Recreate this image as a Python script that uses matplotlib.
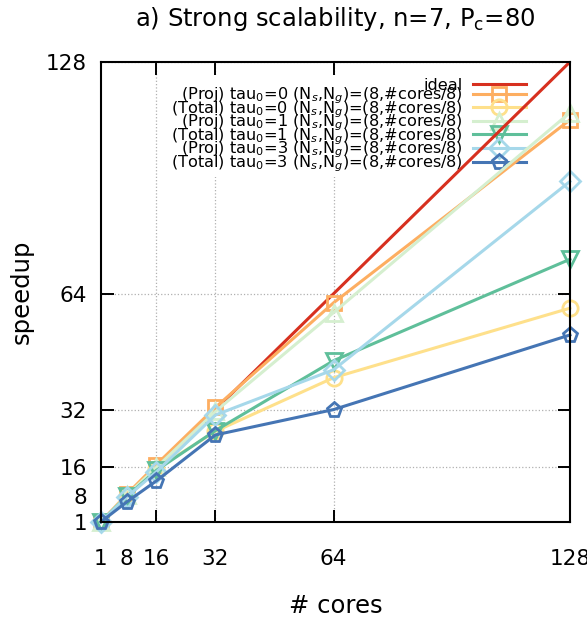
import matplotlib
matplotlib.use("Agg")
import matplotlib.pyplot as plt

cores = [1, 8, 16, 32, 64, 128]
ideal = [1, 8, 16, 32, 64, 128]
proj0 = [1, 8.6, 16.8, 32.6, 61.5, 112]
total0 = [1, 8.2, 15.6, 26.0, 40.8, 60.0]
proj1 = [1, 8.3, 16.0, 31.5, 58.8, 114]
total1 = [1, 8.0, 15.2, 26.2, 45.5, 73.5]
proj3 = [1, 7.9, 14.8, 30.5, 43.0, 95.0]
total3 = [1, 6.5, 12.3, 25.0, 32.0, 52.6]

tail = r" (N$_s$,N$_g$)=(8,#cores/8)"
series = [
    (proj0, "(Proj) tau$_0$=0" + tail, "#fdae61", "s", 10),
    (total0, "(Total) tau$_0$=0" + tail, "#fee08b", "o", 11),
    (proj1, "(Proj) tau$_0$=1" + tail, "#d5efcf", "^", 11),
    (total1, "(Total) tau$_0$=1" + tail, "#5fbf9a", "v", 11),
    (proj3, "(Proj) tau$_0$=3" + tail, "#a6d8ea", "D", 10),
    (total3, "(Total) tau$_0$=3" + tail, "#4575b4", "p", 11),
]

fig = plt.figure(figsize=(5.87, 6.19), dpi=100)
ax = fig.add_axes([0.172, 0.157, 0.799, 0.743])

ax.plot(cores, ideal, color="#d7301f", lw=2.2, label="ideal", zorder=2)
for ys, lab, col, mk, ms in series:
    ax.plot(cores, ys, color=col, lw=2.2, marker=mk, ms=ms, mfc="none",
            mew=2, label=lab, clip_on=False, zorder=2)

ax.set_xlim(1, 128)
ax.set_ylim(1, 128)
ax.set_xticks([16, 32, 64, 128])
ax.set_yticks([16, 32, 64, 128])
ax.set_xticks([1, 8], minor=True)
ax.set_yticks([1, 8], minor=True)
ax.set_xticklabels(["16", "32", "64", "128"])
ax.set_yticklabels(["16", "32", "64", "128"])
ax.set_xticklabels(["1", "8"], minor=True)
ax.set_yticklabels(["1", "8"], minor=True)
ax.tick_params(which="major", direction="in", length=9, width=1.4,
               top=True, right=True, labelsize=15.5)
ax.tick_params(which="minor", length=0, labelsize=15.5)
ax.tick_params(axis="x", which="both", pad=19.5)
ax.tick_params(axis="y", which="both", pad=10)
ax.grid(True, which="major", color="#b0b0b0", linestyle=":", lw=0.9)
ax.set_axisbelow(True)
for s in ax.spines.values():
    s.set_linewidth(1.5)

ax.set_title("a) Strong scalability, n=7, P$_\\mathrm{c}$=80", fontsize=17.5, pad=26)
ax.set_xlabel("# cores", fontsize=17.5, labelpad=18)
ax.set_ylabel("speedup", fontsize=17.5, labelpad=9)

leg = ax.legend(loc="upper right", bbox_to_anchor=(0.93, 0.99), fontsize=11.6,
                markerfirst=False, handlelength=3.3, handletextpad=0.6,
                labelspacing=-0.44, borderpad=0.2, frameon=True, fancybox=False,
                edgecolor="none", facecolor="white", framealpha=1)
leg.set_zorder(1)

fig.savefig("out.png", dpi=100)
